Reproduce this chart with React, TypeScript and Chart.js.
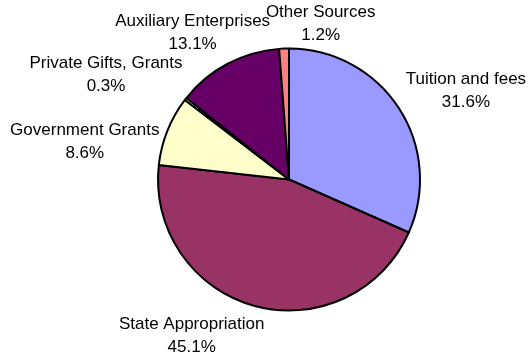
import React, { useEffect, useRef } from "react";
import { Chart, registerables } from "chart.js";

Chart.register(...registerables);

const categories = [
  "Tuition and fees",
  "State Appropriation",
  "Government Grants",
  "Private Gifts, Grants",
  "Auxiliary Enterprises",
  "Other Sources",
];
const shares = [31.6, 45.1, 8.6, 0.3, 13.1, 1.2];
const sliceColors = ["#9999FF", "#993366", "#FFFFCC", "#CCFFFF", "#660066", "#FF8080"];

// label nudges (px) applied after the default outside placement
const labelNudges: [number, number][] = [
  [10, -0.5],
  [-42, 0],
  [-6, 23],
  [-13, -5],
  [5, -4],
  [39, 6],
];

const FONT = '17px "Liberation Sans", Arial, sans-serif';
const LINE = 23;

const outsideLabels = {
  id: "outsideLabels",
  afterDraw(chart: any) {
    const ctx = chart.ctx as CanvasRenderingContext2D;
    const meta = chart.getDatasetMeta(0);
    ctx.save();
    ctx.font = FONT;
    ctx.fillStyle = "#000";
    ctx.textAlign = "center";
    ctx.textBaseline = "middle";
    meta.data.forEach((arc: any, i: number) => {
      const { x, y, startAngle, endAngle, outerRadius } = arc.getProps(
        ["x", "y", "startAngle", "endAngle", "outerRadius"],
        true
      );
      const a = (startAngle + endAngle) / 2;
      const c = Math.cos(a);
      const s = Math.sin(a);
      const l1 = categories[i];
      const l2 = shares[i].toFixed(1) + "%";
      const w = Math.max(ctx.measureText(l1).width, ctx.measureText(l2).width);
      const h = LINE * 2;
      const r = outerRadius + 8;
      const cx = x + r * c + c * (w / 2) + labelNudges[i][0];
      const cy = y + r * s + s * (h / 2) + labelNudges[i][1];
      ctx.fillText(l1, cx, cy - LINE / 2);
      ctx.fillText(l2, cx, cy + LINE / 2);
    });
    ctx.restore();
  },
};

export default function App() {
  const ref = useRef<HTMLCanvasElement | null>(null);
  useEffect(() => {
    if (!ref.current) return;
    const chart = new Chart(ref.current, {
      type: "pie",
      data: {
        labels: categories,
        datasets: [
          {
            data: shares,
            backgroundColor: sliceColors,
            borderColor: "#000",
            borderWidth: 2,
            radius: 131,
          } as any,
        ],
      },
      options: {
        responsive: false,
        animation: false,
        layout: { padding: { left: 46, right: 0, top: 0, bottom: 5 } },
        plugins: {
          legend: { display: false },
          tooltip: { enabled: false },
        },
      },
      plugins: [outsideLabels],
    });
    return () => chart.destroy();
  }, []);
  return (
    <div style={{ position: "absolute", left: 0, top: 0, width: 532, height: 364, background: "#fff" }}>
      <canvas ref={ref} width={532} height={364} />
    </div>
  );
}
